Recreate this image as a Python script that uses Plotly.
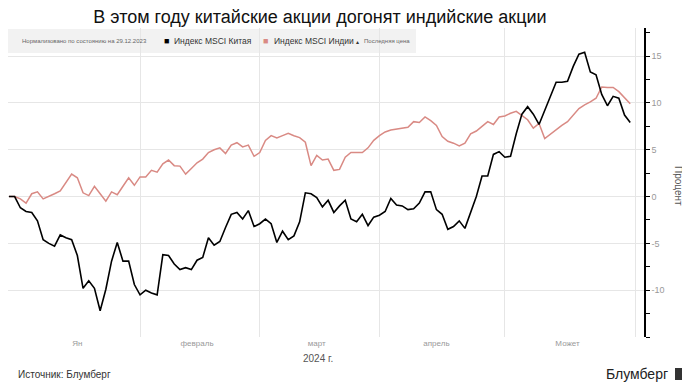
import pandas as pd
import plotly.graph_objects as go

# ---- data ----
dates = [d for d in pd.bdate_range("2023-12-29", "2024-05-31") if d != pd.Timestamp("2024-01-01")]

china = [0, 0, -1.2, -1.6, -1.7, -2.6, -4.6, -5.0, -5.3, -4.1,
         -4.4, -4.6, -6.3, -9.8, -9.0, -9.8, -12.2, -9.9, -6.9, -4.9,
         -6.9, -6.9, -9.4, -10.5, -10.0, -10.3, -10.5, -6.2, -6.3, -7.2,
         -7.8, -7.6, -7.8, -6.8, -6.5, -4.4, -5.2, -4.8,
         -3.3, -1.9, -1.7, -2.4, -1.5, -3.2, -2.9, -2.4, -2.9, -4.9,
         -3.7, -4.6, -4.2, -2.7, 0.4, 0.3, -0.1, -1.1, -0.4, -1.7,
         -1.0, -0.4, -2.4, -2.7, -1.9, -3.1, -2.2, -2.0, -1.6, -0.2,
         -0.9, -1.0, -1.4, -1.3, -0.7,
         0.5, 0.5, -1.4, -1.9, -3.5, -3.2, -2.6, -3.4, -1.7, 0.0,
         2.2, 2.2, 4.5, 4.8, 4.2, 4.3, 6.7, 8.8, 9.6, 8.8,
         7.7, 9.2, 10.9, 12.2, 12.2, 12.3, 13.9, 15.2, 15.4, 13.3,
         13.0, 10.9, 9.7, 10.7, 10.5, 8.7, 7.9]

india = [0, 0, -0.25, -0.7, 0.3, 0.5, -0.25, 0, 0.3, 0.6,
         1.5, 2.4, 2.0, 0.4, 0.1, 1.1, 0.3, -0.5, 0.5, 0.2,
         1.1, 2.0, 1.2, 2.1, 2.1, 2.8, 2.6, 3.5, 3.9, 3.3,
         3.25, 2.4, 3.0, 3.6, 4.0, 4.7, 5.0, 5.2,
         4.6, 5.5, 5.75, 5.3, 5.5, 4.3, 4.7, 6.0, 6.5, 6.25,
         6.5, 6.75, 6.5, 6.3, 5.8, 3.3, 4.4, 3.9, 4.0, 2.8,
         2.9, 4.2, 4.7, 4.7, 4.7, 5.2, 6.0, 6.5, 6.9, 7.1,
         7.2, 7.3, 7.4, 8.0, 7.9,
         8.5, 8.1, 7.6, 6.4, 5.9, 5.7, 5.4, 5.7, 6.7, 7.0,
         7.5, 8.0, 7.7, 8.5, 8.6, 8.9, 9.1, 8.6, 8.2, 7.3,
         7.8, 6.2, 6.7, 7.1, 7.6, 8.0, 8.7, 9.4, 9.8, 10.1,
         10.5, 11.7, 11.65, 11.65, 11.2, 10.5, 9.9]

month_ticks = ["2024-01-17", "2024-02-15", "2024-03-15", "2024-04-15", "2024-05-16"]
month_labels = ["Ян", "февраль", "март", "апрель", "Может"]
month_grid = ["2023-12-29", "2024-02-01", "2024-03-01", "2024-04-01", "2024-05-01", "2024-06-03"]
y_ticks = [-10, -5, 0, 5, 10, 15]
y_labels = ["-10", "-5", "0", "5", "10", "15"]

# ---- layout helpers (reference pixel -> paper); page body adds an 8px offset ----
OFF = 8
W, H = 690 - OFF, 387 - OFF
L, R, T, B = 0, 46, 20, 50
def px(x):
    return (x - OFF - L) / (W - L - R)
def py(y):
    return (H - B - (y - OFF)) / (H - T - B)

FONT = "Liberation Sans, Arial, sans-serif"
RED = "#d98a84"

fig = go.Figure()
fig.add_trace(go.Scatter(x=dates, y=india, mode="lines", line=dict(color=RED, width=1.5),
                         name="Индекс MSCI Индии", showlegend=False, cliponaxis=False))
fig.add_trace(go.Scatter(x=dates, y=china, mode="lines", line=dict(color="#000000", width=1.6),
                         name="Индекс MSCI Китая", showlegend=False, cliponaxis=False))

fig.update_layout(
    width=W, height=H,
    margin=dict(l=L, r=R, t=T, b=B, autoexpand=False),
    paper_bgcolor="white",
    plot_bgcolor="rgba(0,0,0,0)",
    font=dict(family=FONT, color="#333"),
    title=dict(text="В этом году китайские акции догонят индийские акции",
               x=px(320), xref="paper", xanchor="center", y=1 - 2 / H, yanchor="top",
               font=dict(size=18, color="#111", family=FONT)),
    xaxis=dict(
        type="date",
        range=["2023-12-28 20:00", "2024-06-04 10:00"],
        rangebreaks=[dict(bounds=["sat", "mon"]), dict(values=["2024-01-01"])],
        tickmode="array", tickvals=month_ticks, ticktext=month_labels,
        showgrid=False, showline=False, ticks="", zeroline=False,
        tickfont=dict(size=8, color="#999"),
        minor=dict(tickmode="array", tickvals=month_grid, showgrid=True,
                   gridcolor="#e6e6e6", gridwidth=1, ticks=""),
    ),
    yaxis=dict(
        side="right", range=[-15, 18],
        tickmode="array", tickvals=y_ticks, ticktext=y_labels,
        showline=True, linecolor="#000", linewidth=1.5,
        ticks="outside", ticklen=4, tickcolor="#000", tickwidth=1.2,
        tickfont=dict(size=9, color="#999"),
        showgrid=True, gridcolor="#e6e6e6", gridwidth=1, zeroline=False,
        minor=dict(dtick=2.5, tick0=0, ticks="outside", ticklen=4, tickcolor="#000", showgrid=False),
    ),
)

# legend bar
fig.add_shape(type="rect", xref="paper", yref="paper", x0=px(8), x1=px(416), y0=py(53), y1=py(29),
              fillcolor="#f2f2f2", line=dict(width=0), layer="below")

ann = [
    dict(x=px(20), y=py(41), text="Нормализовано по состоянию на 29.12.2023", size=6, color="#666"),
    dict(x=px(162), y=py(41), text="■", size=9, color="#000"),
    dict(x=px(172), y=py(41), text="Индекс MSCI Китая", size=8.5, color="#333"),
    dict(x=px(261), y=py(41), text="■", size=9, color=RED),
    dict(x=px(272), y=py(41), text="Индекс MSCI Индии", size=8.5, color="#333"),
    dict(x=px(354), y=py(42), text="▴", size=6, color="#333"),
    dict(x=px(362), y=py(41), text="Последняя цена", size=6, color="#666"),
    dict(x=px(16), y=py(374), text="Источник: Блумберг", size=10, color="#333"),
    dict(x=px(604), y=py(374), text="Блумберг", size=14, color="#222"),
]
for a in ann:
    fig.add_annotation(x=a["x"], y=a["y"], xref="paper", yref="paper", text=a["text"],
                       showarrow=False, xanchor="left", yanchor="middle",
                       font=dict(size=a["size"], color=a["color"], family=FONT))

fig.add_annotation(x=px(318), y=py(358), xref="paper", yref="paper", text="2024 г.",
                   showarrow=False, xanchor="center", yanchor="middle",
                   font=dict(size=10, color="#555", family=FONT))
fig.add_annotation(x=px(678), y=py(186), xref="paper", yref="paper", text="Процент",
                   showarrow=False, xanchor="center", yanchor="middle", textangle=90,
                   font=dict(size=10, color="#555", family=FONT))

# logo mark
fig.add_shape(type="rect", xref="paper", yref="paper", x0=px(675), x1=px(684), y0=py(380), y1=py(368),
              fillcolor="#333", line=dict(width=0))

fig.write_html("out.html")
